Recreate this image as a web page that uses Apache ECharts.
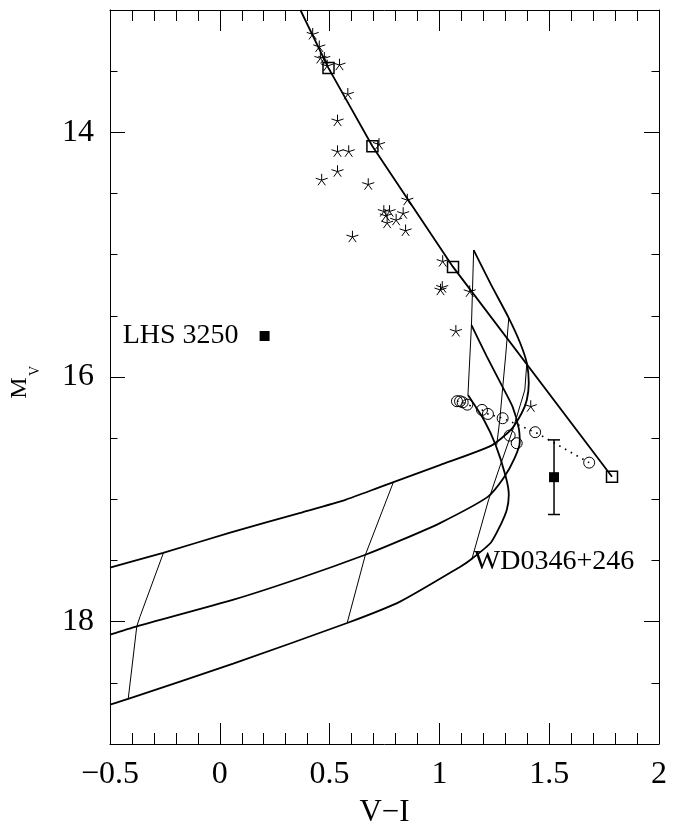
<!DOCTYPE html>
<html><head><meta charset="utf-8">
<script src="https://cdn.jsdelivr.net/npm/echarts@6/dist/echarts.min.js"></script>
<style>html,body{margin:0;padding:0;background:#fff}#c{width:681px;height:825px}</style>
</head><body><div id="c"></div>
<script>
// ---- data (V-I, M_V) ----
const msLine = [[0.367,13.0],[0.495,13.475],[0.695,14.114],[1.062,15.10],[1.786,16.816]];
const msSquares = [[0.495,13.475],[0.695,14.114],[1.062,15.10],[1.786,16.816]];
const fieldStars = [[0.423,13.194],[0.453,13.296],[0.458,13.390],[0.476,13.390],[0.489,13.453],[0.545,13.445],
  [0.583,13.684],[0.536,13.902],[0.536,14.153],[0.587,14.153],[0.536,14.316],[0.464,14.386],[0.725,14.094],
  [0.676,14.422],[0.854,14.549],[0.747,14.642],[0.773,14.642],[0.756,14.678],[0.835,14.659],[0.803,14.713],
  [0.762,14.737],[0.846,14.800],[0.604,14.851],[1.015,15.051],[1.013,15.263],[1.005,15.284],[1.138,15.298],
  [1.075,15.622],[1.416,16.237]];
const track1 = [[1.156,14.963],[1.234,15.241],[1.316,15.518],[1.366,15.714],[1.398,15.886],[1.407,16.049],
  [1.398,16.188],[1.375,16.294],[1.325,16.433],[1.234,16.563],[1.005,16.718],[0.732,16.898],[0.572,17.004],
  [0.367,17.110],[0.047,17.273],[-0.258,17.437],[-0.5,17.559]];
const track2 = [[1.146,15.576],[1.215,15.829],[1.287,16.079],[1.333,16.242],[1.361,16.416],[1.366,16.531],
  [1.343,16.661],[1.293,16.824],[1.220,16.980],[1.005,17.192],[0.823,17.336],[0.663,17.453],[0.367,17.643],
  [0.0625,17.820],[-0.378,18.038],[-0.5,18.106]];
const track3 = [[1.130,16.147],[1.203,16.351],[1.256,16.555],[1.302,16.814],[1.316,16.963],[1.307,17.086],
  [1.279,17.208],[1.234,17.355],[1.142,17.494],[1.097,17.549],[0.823,17.834],[0.580,18.011],[0.061,18.343],
  [-0.417,18.631],[-0.5,18.678]];
const iso1 = [[1.156,14.963],[1.146,15.576],[1.130,16.147]];
const iso2 = [[1.316,15.518],[1.302,15.820],[1.288,16.090],[1.275,16.351],[1.261,16.555]];
const iso3 = [[1.398,15.886],[1.389,16.106],[1.334,16.433],[1.270,16.759],[1.224,17.004],[1.147,17.494]];
const iso4 = [[0.791,16.857],[0.663,17.453],[0.580,18.011]];
const iso5 = [[-0.257,17.439],[-0.363,17.957],[-0.378,18.038],[-0.417,18.631]];
const wdCircles = [[1.080,16.198],[1.094,16.198],[1.106,16.207],[1.127,16.226],[1.194,16.269],[1.221,16.302],
  [1.288,16.337],[1.320,16.479],[1.352,16.541],[1.436,16.451],[1.682,16.700]];
const wdDotted = [[1.080,16.198],[1.094,16.198],[1.106,16.207],[1.127,16.226],[1.194,16.269],[1.221,16.302],
  [1.288,16.337],[1.436,16.451],[1.682,16.700]];
const lhs3250 = [[0.204,15.665]];
const wd0346 = [[1.522,16.819]];
const wd0346Err = [[1.522,16.514,17.124]];
const xTickLabels = [-0.5,0,0.5,1,1.5,2];
const yLabelValues = [14,16,18];

// ---- chart ----
const FONT = 'Liberation Serif';
const black = '#000';
const starPath = 'path://M0,-10L0,0M0,0L9.51,-3.09M0,0L5.88,8.09M0,0L-5.88,8.09M0,0L-9.51,-3.09';
const thick = 1.8, thin = 1;
function lineSeries(data, w, extra) {
  return Object.assign({type:'line', data, showSymbol:false, symbol:'none', silent:true,
    lineStyle:{color:black, width:w}, z:2, animation:false}, extra||{});
}
const baseX = {type:'value', min:-0.5, max:2, interval:0.5,
  axisLine:{show:true, onZero:false, lineStyle:{color:black, width:1}},
  axisTick:{show:true, inside:true, length:21, lineStyle:{color:black, width:1}},
  minorTick:{show:true, splitNumber:5, length:11, lineStyle:{color:black, width:1}},
  splitLine:{show:false}, minorSplitLine:{show:false}};
const baseY = {type:'value', min:13, max:19, inverse:true, interval:0.5,
  axisLine:{show:true, onZero:false, lineStyle:{color:black, width:1}},
  axisTick:{show:true, inside:true, length:7.5, lineStyle:{color:black, width:1}},
  splitLine:{show:false}, axisLabel:{show:false}};
const longY = {type:'value', min:13, max:19, inverse:true, interval:0.5,
  axisLine:{show:false, onZero:false},
  axisTick:{show:true, inside:true, length:15, customValues:yLabelValues, lineStyle:{color:black, width:1}},
  splitLine:{show:false}, axisLabel:{show:false}};
const labelText = {fontSize:28, fontFamily:FONT, color:black, opacity:1, textBorderWidth:0};

const option = {
  backgroundColor:'#fff',
  animation:false,
  grid:{left:110, top:10, width:549, height:734, containLabel:false, outerBoundsMode:'none'},
  xAxis:[
    Object.assign({}, baseX, {position:'bottom',
      axisLabel:{show:true, margin:15, fontSize:32, fontFamily:FONT, color:black,
        customValues:xTickLabels,
        formatter:v => v < 0 ? '\u2212' + Math.abs(v) : String(v)},
      name:'V\u2212I', nameLocation:'middle', nameGap:53,
      nameTextStyle:{fontSize:31, fontFamily:FONT, color:black}}),
    Object.assign({}, baseX, {position:'top', axisLabel:{show:false}})
  ],
  yAxis:[
    Object.assign({}, baseY, {position:'left'}),
    Object.assign({}, longY, {position:'left',
      axisLabel:{show:true, margin:16, fontSize:32, fontFamily:FONT, color:black, customValues:yLabelValues}}),
    Object.assign({}, baseY, {position:'right'}),
    Object.assign({}, longY, {position:'right'})
  ],
  graphic:[{
    type:'group', x:32, y:382, rotation:Math.PI/2,
    children:[
      {type:'text', x:-6, y:0, style:{text:'M', font:'24px "Liberation Serif"', fill:black, textAlign:'center', textVerticalAlign:'bottom'}},
      {type:'text', x:11, y:10, style:{text:'V', font:'14px "Liberation Serif"', fill:black, textAlign:'center', textVerticalAlign:'bottom'}}
    ]
  }],
  series:[
    lineSeries(track1, thick, {smooth:0.2}),
    lineSeries(track2, thick, {smooth:0.2}),
    lineSeries(track3, thick, {smooth:0.2}),
    lineSeries(iso1, thin),
    lineSeries(iso2, thin),
    lineSeries(iso3, thin),
    lineSeries(iso4, thin),
    lineSeries(iso5, thin),
    lineSeries(msLine, thick),
    lineSeries(wdDotted, 1.6, {lineStyle:{color:black, width:1.6, type:[1.6,5]}}),
    {type:'scatter', data:msSquares, symbol:'rect', symbolSize:11, silent:true, z:3,
      itemStyle:{color:'rgba(0,0,0,0)', borderColor:black, borderWidth:1.5, opacity:1}},
    {type:'scatter', data:fieldStars, symbol:starPath, symbolKeepAspect:true, symbolSize:12, silent:true, z:3,
      itemStyle:{color:'rgba(0,0,0,0)', borderColor:black, borderWidth:1, opacity:1}},
    {type:'scatter', data:wdCircles, symbol:'circle', symbolSize:11, silent:true, z:3,
      itemStyle:{color:'rgba(0,0,0,0)', borderColor:black, borderWidth:1, opacity:1}},
    {type:'custom', data:wd0346Err, silent:true, z:3, encode:{x:0, y:[1,2]},
      renderItem:(params, api) => {
        const x = api.value(0);
        const p1 = api.coord([x, api.value(1)]), p2 = api.coord([x, api.value(2)]);
        const w = 6, st = {stroke:black, lineWidth:1.5};
        return {type:'group', children:[
          {type:'line', shape:{x1:p1[0], y1:p1[1], x2:p2[0], y2:p2[1]}, style:st},
          {type:'line', shape:{x1:p1[0]-w, y1:p1[1], x2:p1[0]+w, y2:p1[1]}, style:st},
          {type:'line', shape:{x1:p2[0]-w, y1:p2[1], x2:p2[0]+w, y2:p2[1]}, style:st}
        ]};
      }},
    {type:'scatter', data:wd0346, symbol:'rect', symbolSize:10, silent:true, z:4,
      itemStyle:{color:black, opacity:1},
      label:Object.assign({show:true, position:'bottom', distance:65, formatter:'WD0346+246'}, labelText)},
    {type:'scatter', data:lhs3250, symbol:'rect', symbolSize:10, silent:true, z:4,
      itemStyle:{color:black, opacity:1},
      label:Object.assign({show:true, position:'left', distance:21, formatter:'LHS 3250'}, labelText)}
  ]
};
const chart = echarts.init(document.getElementById('c'), null, {renderer:'canvas'});
chart.setOption(option);
</script></body></html>
